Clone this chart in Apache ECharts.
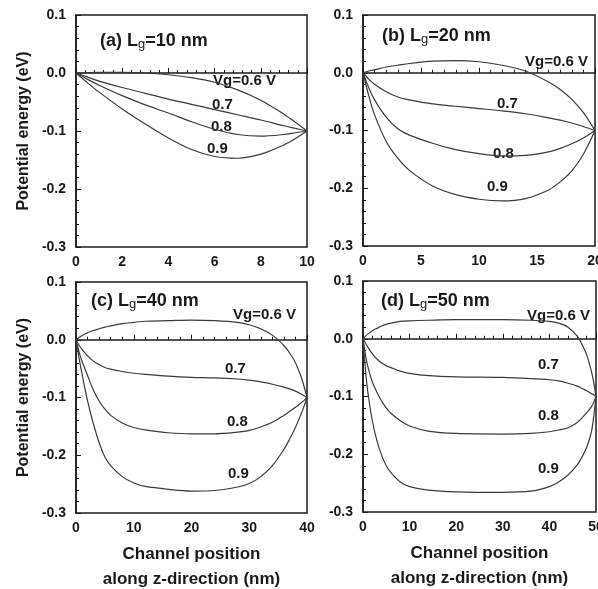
<!DOCTYPE html>
<html>
<head>
<meta charset="utf-8">
<script src="https://cdn.jsdelivr.net/npm/echarts@6/dist/echarts.min.js"></script>
<style>
  html, body { margin: 0; padding: 0; background: #fff; }
  #main { width: 598px; height: 589px; }
</style>
</head>
<body>
<div id="main"></div>
<script>
// (a) Lg = 10 nm
var xA   = [0, 0.5, 1, 2, 3, 4, 5, 6, 7, 8, 9, 9.5, 10];
var a06  = [0, 0.0005, 0.001, 0.001, 0, -0.003, -0.008, -0.016, -0.029, -0.047, -0.071, -0.085, -0.1];
var a07  = [0, -0.007, -0.014, -0.025, -0.035, -0.045, -0.054, -0.063, -0.072, -0.081, -0.091, -0.0955, -0.1];
var a08  = [0, -0.011, -0.021, -0.039, -0.055, -0.069, -0.084, -0.097, -0.106, -0.109, -0.106, -0.103, -0.1];
var a09  = [0, -0.017, -0.033, -0.062, -0.088, -0.112, -0.132, -0.144, -0.147, -0.14, -0.124, -0.113, -0.1];

// (b) Lg = 20 nm
var xB   = [0, 0.5, 1, 2, 3, 4, 6, 8, 10, 12, 14, 16, 17, 18, 19, 20];
var b06  = [0, 0.003, 0.005, 0.010, 0.013, 0.016, 0.020, 0.021, 0.019, 0.013, 0.003, -0.016, -0.029, -0.046, -0.069, -0.1];
var b07  = [0, -0.011, -0.02, -0.033, -0.042, -0.047, -0.054, -0.058, -0.062, -0.066, -0.071, -0.078, -0.082, -0.087, -0.093, -0.1];
var b08  = [0, -0.026, -0.047, -0.077, -0.097, -0.108, -0.122, -0.133, -0.14, -0.144, -0.143, -0.137, -0.131, -0.123, -0.113, -0.1];
var b09  = [0, -0.04, -0.073, -0.119, -0.148, -0.169, -0.196, -0.211, -0.219, -0.222, -0.218, -0.203, -0.189, -0.17, -0.141, -0.1];

// (c) Lg = 40 nm
var xC   = [0, 0.5, 1, 2, 3, 4, 5, 6, 8, 10, 12, 16, 20, 24, 28, 30, 32, 34, 36, 37, 38, 39, 39.5, 40];
var c06  = [0, 0.004, 0.007, 0.012, 0.016, 0.019, 0.022, 0.024, 0.028, 0.030, 0.032, 0.033, 0.034, 0.033, 0.030, 0.026, 0.019, 0.008, -0.01, -0.023, -0.04, -0.065, -0.081, -0.1];
var c07  = [0, -0.009, -0.016, -0.028, -0.037, -0.043, -0.048, -0.051, -0.055, -0.058, -0.06, -0.063, -0.065, -0.066, -0.068, -0.07, -0.073, -0.077, -0.082, -0.085, -0.089, -0.094, -0.097, -0.1];
var c08  = [0, -0.02, -0.036, -0.062, -0.087, -0.106, -0.12, -0.131, -0.144, -0.152, -0.156, -0.161, -0.163, -0.163, -0.16, -0.157, -0.151, -0.143, -0.131, -0.124, -0.117, -0.109, -0.105, -0.1];
var c09  = [0, -0.03, -0.057, -0.106, -0.145, -0.178, -0.203, -0.218, -0.237, -0.248, -0.254, -0.259, -0.262, -0.261, -0.255, -0.249, -0.237, -0.218, -0.19, -0.172, -0.152, -0.128, -0.115, -0.1];

// (d) Lg = 50 nm
var xD   = [0, 0.5, 1, 2, 3, 4, 5, 6, 8, 10, 14, 20, 30, 36, 40, 42, 44, 46, 47, 48, 49, 49.5, 50];
var d06  = [0, 0.004, 0.008, 0.014, 0.018, 0.022, 0.025, 0.027, 0.03, 0.031, 0.032, 0.033, 0.033, 0.032, 0.03, 0.027, 0.02, 0.004, -0.01, -0.028, -0.056, -0.075, -0.1];
var d07  = [0, -0.007, -0.014, -0.026, -0.035, -0.042, -0.047, -0.05, -0.056, -0.06, -0.064, -0.066, -0.067, -0.069, -0.071, -0.073, -0.077, -0.082, -0.086, -0.09, -0.095, -0.097, -0.1];
var d08  = [0, -0.026, -0.047, -0.075, -0.093, -0.108, -0.12, -0.129, -0.142, -0.151, -0.16, -0.164, -0.165, -0.164, -0.161, -0.158, -0.154, -0.145, -0.137, -0.128, -0.118, -0.11, -0.1];
var d09  = [0, -0.05, -0.09, -0.142, -0.177, -0.202, -0.22, -0.232, -0.248, -0.256, -0.262, -0.265, -0.266, -0.264, -0.256, -0.248, -0.236, -0.218, -0.205, -0.188, -0.162, -0.135, -0.1];

var yTicks = [-0.3, -0.2, -0.1, 0.0, 0.1];
var xSteps = [2, 5, 10, 10];   // major tick step of each panel
var curveNames = ['Vg=0.6 V', '0.7', '0.8', '0.9'];

var FONT = '"Liberation Sans", Arial, sans-serif';
var INK = '#1a1a1a';
var LINE = '#3a3a3a';

function pairs(xs, ys) {
	var out = [];
	for (var i = 0; i < xs.length; i++) out.push([xs[i], ys[i]]);
	return out;
}

var panels = [
	{ tag: '(a)', lg: '10', max: 10, x: xA, ys: [a06, a07, a08, a09],
	  grid: { left: 76, top: 15, width: 231, height: 232 }, yName: true, xName: false,
	  title: [100, 32], labels: [[213, 82], [212, 106], [211, 128], [207, 150]] },
	{ tag: '(b)', lg: '20', max: 20, x: xB, ys: [b06, b07, b08, b09],
	  grid: { left: 363, top: 15, width: 232, height: 231 }, yName: false, xName: false,
	  title: [382, 27], labels: [[525, 63], [497, 105], [493, 155], [487, 188]] },
	{ tag: '(c)', lg: '40', max: 40, x: xC, ys: [c06, c07, c08, c09],
	  grid: { left: 76, top: 282, width: 231, height: 231 }, yName: true, xName: true,
	  title: [91, 292], labels: [[233, 316], [225, 370], [227, 423], [228, 475]] },
	{ tag: '(d)', lg: '50', max: 50, x: xD, ys: [d06, d07, d08, d09],
	  grid: { left: 363, top: 281, width: 233, height: 231 }, yName: false, xName: true,
	  title: [381, 292], labels: [[527, 317], [538, 366], [538, 417], [538, 470]] }
];

var option = {
	backgroundColor: '#fff',
	animation: false,
	grid: [], xAxis: [], yAxis: [], series: [], title: [], graphic: []
};

panels.forEach(function (p, i) {
	option.grid.push({
		left: p.grid.left, top: p.grid.top, width: p.grid.width, height: p.grid.height,
		containLabel: false, outerBoundsMode: 'none',
		show: true, borderColor: INK, borderWidth: 1.5, backgroundColor: 'transparent'
	});
	option.xAxis.push({
		gridIndex: i, type: 'value', min: 0, max: p.max, interval: xSteps[i],
		axisLine: { lineStyle: { color: INK, width: 1.5 } },
		axisTick: { inside: true, length: 5, lineStyle: { color: INK } },
		minorTick: { show: true, splitNumber: 5, length: 3, lineStyle: { color: INK } },
		splitLine: { show: false },
		axisLabel: { color: INK, fontFamily: FONT, fontWeight: 'bold', fontSize: 14, margin: 8 },
		name: p.xName ? 'Channel position\nalong z-direction (nm)' : '',
		nameLocation: 'middle', nameGap: 29,
		nameTextStyle: { color: INK, fontFamily: FONT, fontWeight: 'bold', fontSize: 17, lineHeight: 25 }
	});
	option.yAxis.push({
		gridIndex: i, type: 'value', min: yTicks[0], max: yTicks[yTicks.length - 1], interval: 0.1,
		axisLine: { lineStyle: { color: INK, width: 1.5 } },
		axisTick: { inside: true, length: 5, lineStyle: { color: INK } },
		minorTick: { show: true, splitNumber: 5, length: 3, lineStyle: { color: INK } },
		splitLine: { show: false },
		axisLabel: { color: INK, fontFamily: FONT, fontWeight: 'bold', fontSize: 14, margin: 10,
			formatter: function (v) { return v.toFixed(1); } },
		name: p.yName ? 'Potential energy (eV)' : '',
		nameLocation: 'middle', nameGap: 44,
		nameTextStyle: { color: INK, fontFamily: FONT, fontWeight: 'bold', fontSize: 16 }
	});
	p.ys.forEach(function (ys, k) {
		option.series.push({
			type: 'line', name: p.tag + curveNames[k], xAxisIndex: i, yAxisIndex: i,
			data: pairs(p.x, ys), showSymbol: false, smooth: 0.3,
			lineStyle: { color: LINE, width: 1.2 }
		});
		option.graphic.push({
			type: 'text', left: p.labels[k][0], top: p.labels[k][1] - 9,
			style: { text: curveNames[k], fill: INK, font: 'bold 15px ' + FONT }
		});
	});
	option.title.push({
		left: p.title[0], top: p.title[1], padding: 0,
		text: '{m|' + p.tag + ' L}{s|g}{m|=' + p.lg + ' nm}',
		textStyle: {
			rich: {
				m: { fontFamily: FONT, fontWeight: 'bold', fontSize: 18, color: INK },
				s: { fontFamily: FONT, fontWeight: 'normal', fontSize: 13, color: INK, padding: [6, 0, 0, 0] }
			}
		}
	});
});

var myChart = echarts.init(document.getElementById('main'));
myChart.setOption(option);
</script>
</body>
</html>
